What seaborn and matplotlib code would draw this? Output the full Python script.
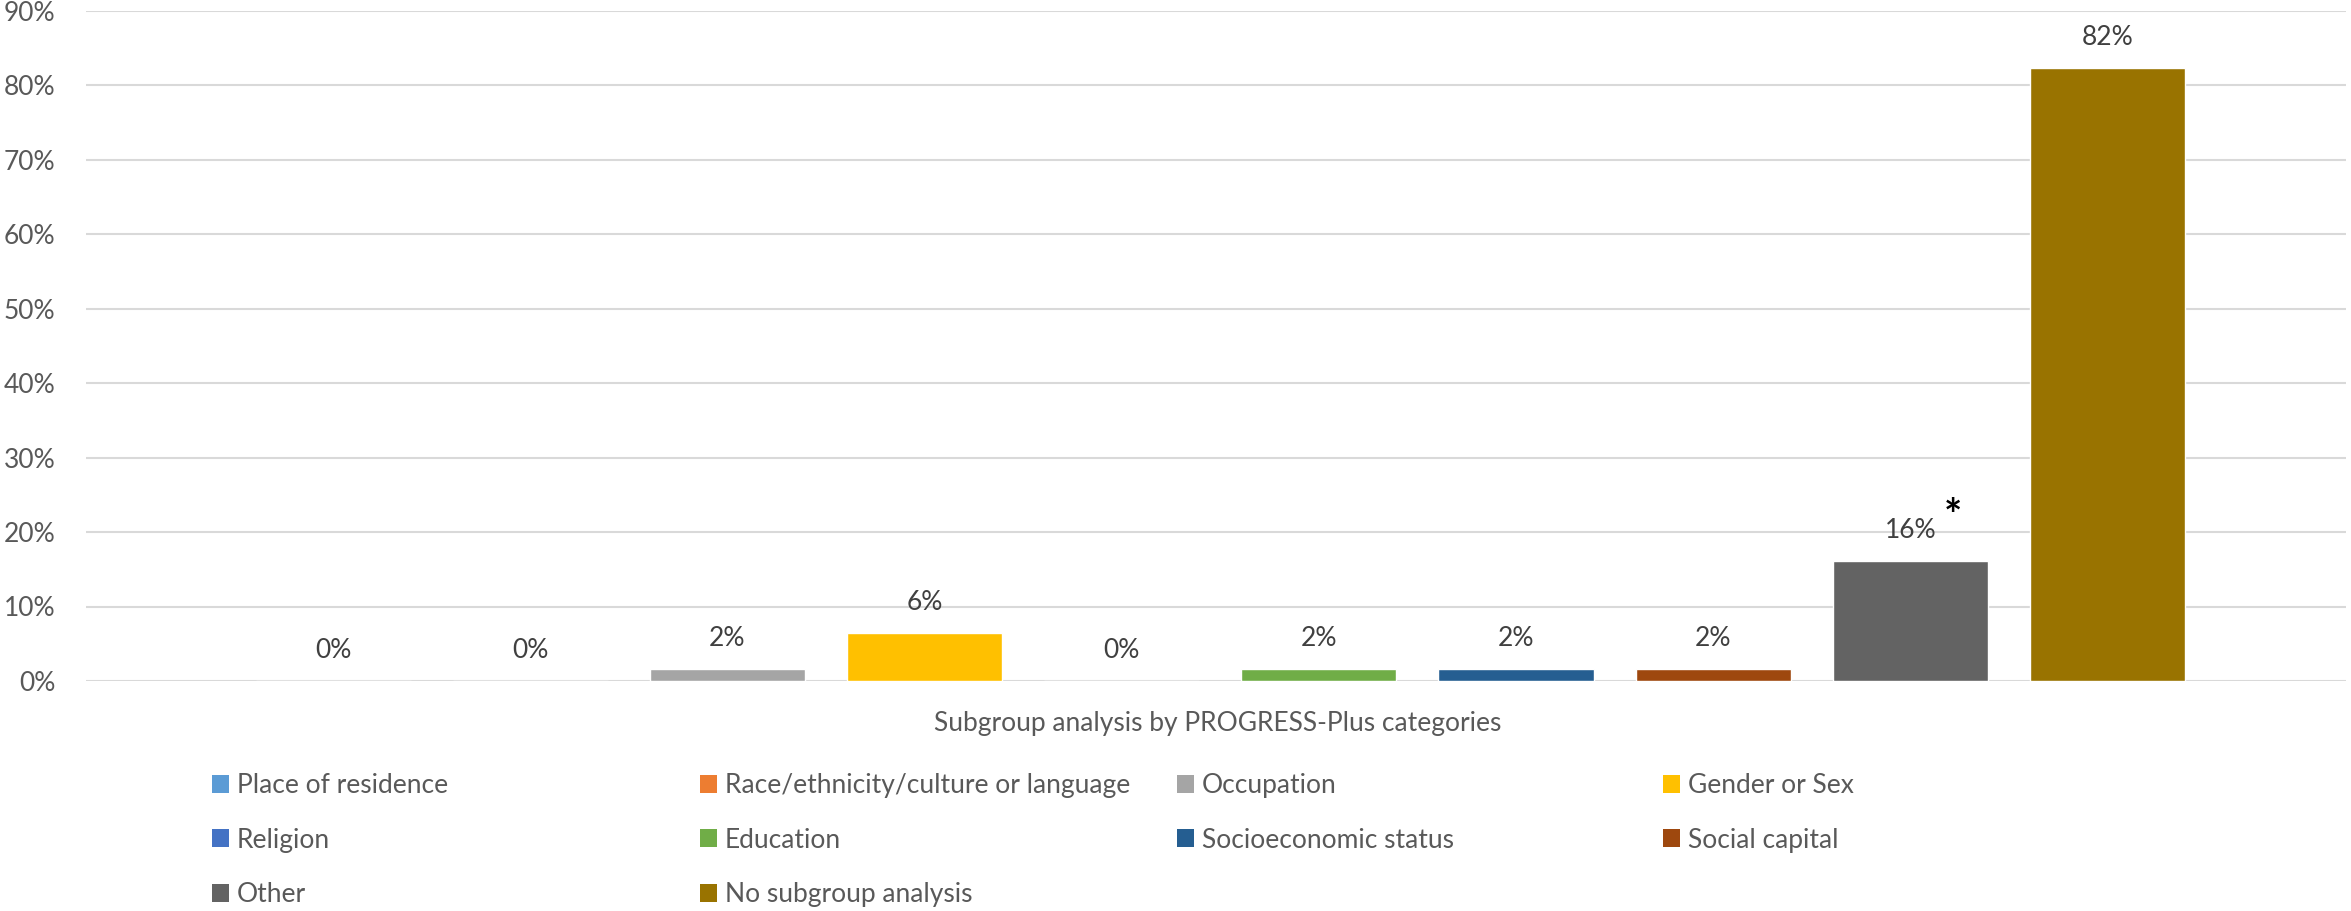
import matplotlib
matplotlib.use("Agg")
import matplotlib.pyplot as plt
from matplotlib.patches import Patch
from matplotlib.ticker import PercentFormatter, MultipleLocator
import seaborn as sns
import pandas as pd

categories = ["Place of residence", "Race/ethnicity/culture or language", "Occupation",
              "Gender or Sex", "Religion", "Education", "Socioeconomic status",
              "Social capital", "Other", "No subgroup analysis"]
values = [0.0, 0.0, 1.6, 6.5, 0.0, 1.6, 1.6, 1.6, 16.1, 82.3]
colors = ["#5B9BD5", "#ED7D31", "#A5A5A5", "#FFC000", "#4472C4",
          "#70AD47", "#255E91", "#9E480E", "#636363", "#997300"]
axis_title = "Subgroup analysis by PROGRESS-Plus categories"
starred = "Other"

sns.set_theme(style="white")
plt.rcParams["font.family"] = ["Lato", "DejaVu Sans"]

W, H = 2351, 911
fig = plt.figure(figsize=(W / 100, H / 100), dpi=100)
ax = fig.add_axes([86 / W, 1 - 681 / H, (2346 - 86) / W, (681 - 10.5) / H])

df = pd.DataFrame({"cat": categories, "val": values})
sns.barplot(data=df, x="cat", y="val", hue="cat", palette=dict(zip(categories, colors)),
            order=categories, hue_order=categories, width=0.787, legend=False,
            saturation=1, ax=ax, zorder=3)

ax.set_ylim(0, 90)
ax.set_xlim(-1.254, 10.21)
ax.yaxis.set_major_locator(MultipleLocator(10))
ax.yaxis.set_major_formatter(PercentFormatter(decimals=0))
ax.grid(axis="y", color="#D9D9D9", linewidth=1.5, zorder=0)
ax.set_axisbelow(True)
for s in ax.spines.values():
    s.set_visible(False)
ax.set_xticks([])
ax.set_xlabel("")
ax.set_ylabel("")
ax.tick_params(axis="y", length=0, pad=22, labelsize=19, labelcolor="#595959")

for i, (c, v) in enumerate(zip(categories, values)):
    ax.annotate(f"{v:.0f}%", xy=(i, v), xytext=(0, 22), textcoords="offset points",
                ha="center", va="center", fontsize=19, color="#404040")
    if c == starred:
        ax.annotate("*", xy=(i, v), xytext=(31, 32), textcoords="offset points",
                    ha="center", va="center", fontsize=31, fontweight="bold", color="black")

fig.text(1218 / W, 1 - 723 / H, axis_title, ha="center", va="center",
         fontsize=19, color="#595959")

# legend: Excel-style grid, 4 equal columns, 3 rows (row-major order)
col_x = [212, 700, 1177, 1663]
row_y = [785, 839, 893]
ncol = 4
for j in range(ncol):
    idx = list(range(j, len(categories), ncol))
    handles = [Patch(facecolor=colors[k], edgecolor="none") for k in idx]
    labels = [categories[k] for k in idx]
    leg = fig.legend(handles, labels, loc="upper left",
                     bbox_to_anchor=(col_x[j] / W, 1 - (row_y[0] - 12) / H),
                     frameon=False, fontsize=19, handlelength=0.65, handleheight=0.65,
                     handletextpad=0.3, labelspacing=1.12, borderpad=0, borderaxespad=0,
                     labelcolor="#595959")

fig.savefig("out.png", dpi=100, facecolor="white")
